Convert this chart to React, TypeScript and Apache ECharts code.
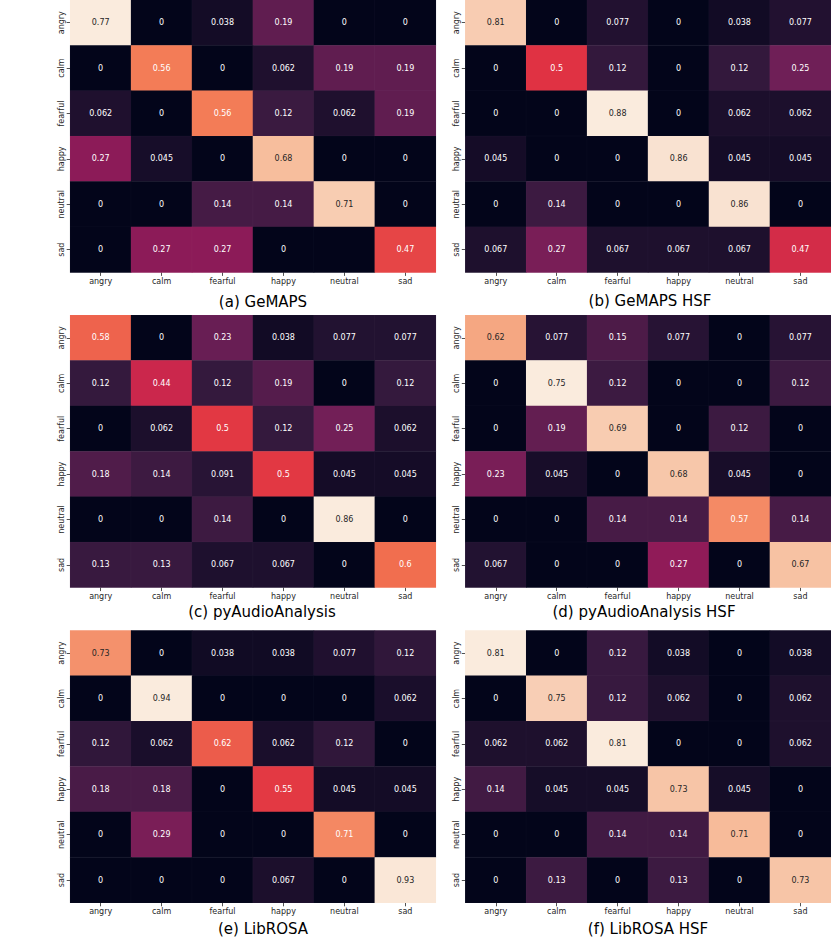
import React, { useEffect, useRef } from "react";
import * as echarts from "echarts";

const categories = ["angry", "calm", "fearful", "happy", "neutral", "sad"];

const titles = [
  "(a) GeMAPS",
  "(b) GeMAPS HSF",
  "(c) pyAudioAnalysis",
  "(d) pyAudioAnalysis HSF",
  "(e) LibROSA",
  "(f) LibROSA HSF",
];

// rows = true label (top to bottom), cols = predicted label (left to right); null = no annotation
const gemaps: (number | null)[][] = [
  [0.77, 0, 0.038, 0.19, 0, 0],
  [0, 0.56, 0, 0.062, 0.19, 0.19],
  [0.062, 0, 0.56, 0.12, 0.062, 0.19],
  [0.27, 0.045, 0, 0.68, 0, 0],
  [0, 0, 0.14, 0.14, 0.71, 0],
  [0, 0.27, 0.27, 0, null, 0.47],
];

const gemapsHsf: (number | null)[][] = [
  [0.81, 0, 0.077, 0, 0.038, 0.077],
  [0, 0.5, 0.12, 0, 0.12, 0.25],
  [0, 0, 0.88, 0, 0.062, 0.062],
  [0.045, 0, 0, 0.86, 0.045, 0.045],
  [0, 0.14, 0, 0, 0.86, 0],
  [0.067, 0.27, 0.067, 0.067, 0.067, 0.47],
];

const pyAudio: (number | null)[][] = [
  [0.58, 0, 0.23, 0.038, 0.077, 0.077],
  [0.12, 0.44, 0.12, 0.19, 0, 0.12],
  [0, 0.062, 0.5, 0.12, 0.25, 0.062],
  [0.18, 0.14, 0.091, 0.5, 0.045, 0.045],
  [0, 0, 0.14, 0, 0.86, 0],
  [0.13, 0.13, 0.067, 0.067, 0, 0.6],
];

const pyAudioHsf: (number | null)[][] = [
  [0.62, 0.077, 0.15, 0.077, 0, 0.077],
  [0, 0.75, 0.12, 0, 0, 0.12],
  [0, 0.19, 0.69, 0, 0.12, 0],
  [0.23, 0.045, 0, 0.68, 0.045, 0],
  [0, 0, 0.14, 0.14, 0.57, 0.14],
  [0.067, 0, 0, 0.27, 0, 0.67],
];

const librosa: (number | null)[][] = [
  [0.73, 0, 0.038, 0.038, 0.077, 0.12],
  [0, 0.94, 0, 0, 0, 0.062],
  [0.12, 0.062, 0.62, 0.062, 0.12, 0],
  [0.18, 0.18, 0, 0.55, 0.045, 0.045],
  [0, 0.29, 0, 0, 0.71, 0],
  [0, 0, 0, 0.067, 0, 0.93],
];

const librosaHsf: (number | null)[][] = [
  [0.81, 0, 0.12, 0.038, 0, 0.038],
  [0, 0.75, 0.12, 0.062, 0, 0.062],
  [0.062, 0.062, 0.81, 0, 0, 0.062],
  [0.14, 0.045, 0.045, 0.73, 0.045, 0],
  [0, 0, 0.14, 0.14, 0.71, 0],
  [0, 0.13, 0, 0.13, 0, 0.73],
];

const matrices = [gemaps, gemapsHsf, pyAudio, pyAudioHsf, librosa, librosaHsf];

// seaborn "rocket" colormap, evenly spaced stops (k/7)
const rocket = ["#03051A", "#35193E", "#701F57", "#AD1759", "#E13342", "#F37651", "#F6B48F", "#FAEBDD"];

function hexToRgb(h: string) {
  return [parseInt(h.slice(1, 3), 16), parseInt(h.slice(3, 5), 16), parseInt(h.slice(5, 7), 16)];
}
function rocketAt(t: number) {
  const p = Math.max(0, Math.min(1, t)) * (rocket.length - 1);
  const i = Math.min(rocket.length - 2, Math.floor(p));
  const f = p - i;
  const a = hexToRgb(rocket[i]);
  const b = hexToRgb(rocket[i + 1]);
  return a.map((v, k) => v + (b[k] - v) * f);
}
function luminance(rgb: number[]) {
  const c = rgb.map((v) => {
    const s = v / 255;
    return s <= 0.03928 ? s / 12.92 : Math.pow((s + 0.055) / 1.055, 2.4);
  });
  return 0.2126 * c[0] + 0.7152 * c[1] + 0.0722 * c[2];
}
function fmt(v: number) {
  return String(parseFloat(v.toPrecision(2)));
}

const FONT = "DejaVu Sans";
const TEXT = "#262626";

const colLefts = [70.2, 465.3];
const rowTops = [0, 315.2, 630.4];
const gridW = 365.6;
const gridH = 272.4;
const titlePos = [
  [263, 301.7],
  [650, 300.5],
  [262, 612.3],
  [644, 612.3],
  [263, 929.3],
  [648, 929.3],
];

export default function App() {
  const ref = useRef<HTMLDivElement>(null);
  useEffect(() => {
    if (!ref.current) return;
    const chart = echarts.init(ref.current, null, { renderer: "svg" });
    const grids: any[] = [];
    const xAxes: any[] = [];
    const yAxes: any[] = [];
    const series: any[] = [];
    const visualMaps: any[] = [];
    const graphics: any[] = [];

    matrices.forEach((m, idx) => {
      const col = idx % 2;
      const row = Math.floor(idx / 2);
      grids.push({ left: colLefts[col], top: rowTops[row], width: gridW, height: gridH });
      const axisCommon = {
        type: "category",
        gridIndex: idx,
        data: categories,
        axisLine: { show: false },
        axisTick: { show: true, alignWithLabel: true, length: 3.5, lineStyle: { color: TEXT, width: 0.8 } },
        splitArea: { show: false },
        splitLine: { show: false },
      };
      xAxes.push({
        ...axisCommon,
        position: "bottom",
        axisLabel: { fontSize: 8, fontFamily: FONT, color: TEXT, margin: 5 },
      });
      yAxes.push({
        ...axisCommon,
        inverse: true,
        axisLabel: { fontSize: 8, fontFamily: FONT, color: TEXT, margin: 5, rotate: 90 },
      });
      let max = 0;
      m.forEach((r) => r.forEach((v) => { if (v !== null && v > max) max = v; }));
      const data: any[] = [];
      m.forEach((r, ri) =>
        r.forEach((v, ci) => {
          const val = v === null ? 0 : v;
          const lum = luminance(rocketAt(val / max));
          data.push({
            value: [ci, ri, val],
            label: {
              show: v !== null,
              color: lum > 0.385 ? TEXT : "#ffffff",
            },
          });
        })
      );
      series.push({
        type: "heatmap",
        xAxisIndex: idx,
        yAxisIndex: idx,
        data,
        label: {
          show: true,
          fontSize: 8,
          fontFamily: FONT,
          formatter: (p: any) => fmt(p.value[2]),
        },
        itemStyle: { borderColor: "rgba(255,255,255,0.06)", borderWidth: 0.5 },
        emphasis: { disabled: true },
      });
      visualMaps.push({
        type: "continuous",
        show: false,
        min: 0,
        max,
        dimension: 2,
        seriesIndex: idx,
        inRange: { color: rocket },
      });
      graphics.push({
        type: "text",
        x: titlePos[idx][0],
        y: titlePos[idx][1],
        style: {
          text: titles[idx],
          fontSize: 15,
          fontFamily: FONT,
          fill: "#000000",
          align: "center",
          verticalAlign: "middle",
        },
      });
    });

    chart.setOption({
      animation: false,
      backgroundColor: "#ffffff",
      grid: grids,
      xAxis: xAxes,
      yAxis: yAxes,
      visualMap: visualMaps,
      series,
      graphic: graphics,
    });
    return () => chart.dispose();
  }, []);
  return (
    <div
      ref={ref}
      style={{ position: "absolute", left: 0, top: 0, width: 831, height: 938 }}
    />
  );
}
